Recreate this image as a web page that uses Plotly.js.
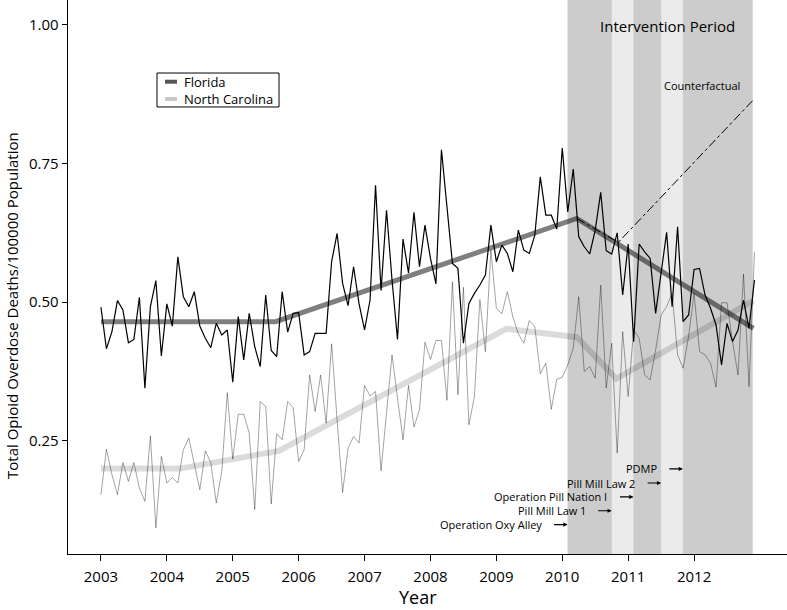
<!DOCTYPE html>
<html>
<head>
<meta charset="utf-8">
<script src="https://cdn.plot.ly/plotly-3.0.1.min.js"></script>
<style>html,body{margin:0;padding:0;background:#fff;}#chart{width:787px;height:610px;}</style>
</head>
<body>
<div id="chart"></div>
<script>
// Monthly values, Jan 2003 .. Dec 2012
const startYear = 2003;
const florida = [
  0.491,0.416,0.447,0.503,0.486,0.427,0.433,0.509,0.345,0.492,0.539,0.403,
  0.497,0.457,0.582,0.510,0.492,0.519,0.457,0.435,0.418,0.462,0.441,0.450,
  0.356,0.474,0.396,0.480,0.420,0.384,0.513,0.413,0.402,0.519,0.446,0.480,
  0.481,0.405,0.411,0.444,0.444,0.444,0.573,0.624,0.534,0.494,0.564,0.497,
  0.450,0.504,0.711,0.521,0.666,0.540,0.433,0.614,0.553,0.662,0.564,0.639,
  0.579,0.533,0.775,0.666,0.570,0.561,0.426,0.498,0.516,0.531,0.549,0.639,
  0.573,0.603,0.588,0.555,0.630,0.594,0.588,0.621,0.726,0.657,0.657,0.632,
  0.778,0.663,0.740,0.618,0.600,0.587,0.630,0.698,0.593,0.587,0.625,0.513,
  0.605,0.429,0.605,0.591,0.579,0.480,0.552,0.626,0.492,0.636,0.465,0.477,
  0.559,0.561,0.513,0.489,0.459,0.387,0.462,0.429,0.450,0.504,0.453,0.540
];
const northCarolina = [
  0.153,0.235,0.189,0.153,0.211,0.177,0.211,0.165,0.141,0.259,0.093,0.222,
  0.174,0.184,0.174,0.234,0.255,0.210,0.162,0.232,0.211,0.138,0.195,0.337,
  0.217,0.298,0.298,0.264,0.126,0.321,0.312,0.136,0.263,0.252,0.321,0.310,
  0.213,0.234,0.369,0.303,0.369,0.282,0.425,0.288,0.157,0.237,0.258,0.246,
  0.350,0.331,0.339,0.196,0.306,0.405,0.327,0.252,0.350,0.275,0.306,0.428,
  0.397,0.431,0.431,0.323,0.537,0.333,0.527,0.279,0.330,0.505,0.411,0.594,
  0.489,0.479,0.519,0.474,0.443,0.426,0.467,0.456,0.371,0.390,0.307,0.361,
  0.365,0.387,0.417,0.510,0.375,0.384,0.363,0.531,0.345,0.426,0.228,0.447,
  0.330,0.450,0.435,0.369,0.360,0.414,0.477,0.492,0.516,0.405,0.381,0.438,
  0.516,0.411,0.405,0.390,0.347,0.499,0.499,0.429,0.369,0.551,0.348,0.591
];
// Segmented trend lines
const flTrendX = [2003.0, 2005.65, 2010.22, 2012.9];
const flTrendY = [0.465, 0.465, 0.651, 0.453];
const ncTrendX = [2003.0, 2004.2, 2005.7, 2009.15, 2010.22, 2010.82, 2012.9];
const ncTrendY = [0.200, 0.200, 0.232, 0.452, 0.437, 0.362, 0.503];
// Counterfactual (Florida)
const cfX = [2010.22, 2010.85, 2012.9];
const cfY = [0.651, 0.608, 0.865];
// Intervention period and events
const periodStart = 2010.08, periodEnd = 2012.89;
const lightBands = [[2010.75, 2011.08], [2011.5, 2011.83]];
const eventNames = ["Operation Oxy Alley", "Pill Mill Law 1", "Operation Pill Nation I", "Pill Mill Law 2", "PDMP"];
const eventDates = [2010.08, 2010.75, 2011.08, 2011.5, 2011.83];
const eventLabelY = [0.099, 0.124, 0.149, 0.174, 0.1995];
// Axis ticks
const yearTicks = [2003, 2004, 2005, 2006, 2007, 2008, 2009, 2010, 2011, 2012];
const yTicks = [0.25, 0.50, 0.75, 1.00];
const yTickText = ["0.25", "0.50", "0.75", "1.00"];

const months = florida.map((_, i) => startYear + i / 12);
const FONT = "Open Sans, Noto Sans, sans-serif";

const traces = [
  {x: ncTrendX, y: ncTrendY, mode: "lines", line: {color: "rgba(0,0,0,0.14)", width: 6}, hoverinfo: "skip"},
  {x: flTrendX, y: flTrendY, mode: "lines", line: {color: "rgba(0,0,0,0.5)", width: 5}, hoverinfo: "skip"},
  {x: months, y: northCarolina, mode: "lines", line: {color: "rgba(0,0,0,0.36)", width: 1}, name: "North Carolina"},
  {x: months, y: florida, mode: "lines", line: {color: "#000", width: 1.2}, name: "Florida"},
  {x: cfX, y: cfY, mode: "lines", line: {color: "#000", width: 1, dash: "dashdot"}, hoverinfo: "skip"}
];

const shapes = [
  {type: "rect", xref: "x", yref: "paper", x0: periodStart, x1: periodEnd, y0: 0, y1: 1, fillcolor: "#cccccc", line: {width: 0}, layer: "below"}
];
lightBands.forEach(b => shapes.push({type: "rect", xref: "x", yref: "paper", x0: b[0], x1: b[1], y0: 0, y1: 1, fillcolor: "#ebebeb", line: {width: 0}, layer: "below"}));
// manual legend
shapes.push({type: "rect", xref: "paper", yref: "paper", x0: 0.1238, x1: 0.2935, y0: 0.8069, y1: 0.8682, fillcolor: "#fff", line: {color: "#000", width: 1}});
shapes.push({type: "line", xref: "paper", yref: "paper", x0: 0.1349, x1: 0.1516, y0: 0.8525, y1: 0.8525, line: {color: "#555", width: 4}});
shapes.push({type: "line", xref: "paper", yref: "paper", x0: 0.1349, x1: 0.1516, y0: 0.8213, y1: 0.8213, line: {color: "#c8c8c8", width: 4}});

const annotations = [
  {xref: "paper", yref: "paper", x: 0.1586, y: 0.8525, xanchor: "left", yanchor: "middle", text: "Florida", showarrow: false, font: {family: FONT, size: 13, color: "#000"}},
  {xref: "paper", yref: "paper", x: 0.1586, y: 0.8213, xanchor: "left", yanchor: "middle", text: "North Carolina", showarrow: false, font: {family: FONT, size: 13, color: "#000"}},
  {xref: "paper", yref: "paper", x: (667 - 68) / 719, y: 1 - 26 / 554, xanchor: "center", yanchor: "middle", text: "Intervention Period", showarrow: false, font: {family: FONT, size: 15, color: "#000"}},
  {xref: "paper", yref: "paper", x: (702 - 68) / 719, y: 1 - 86 / 554, xanchor: "center", yanchor: "middle", text: "Counterfactual", showarrow: false, font: {family: FONT, size: 11, color: "#000"}},
  {xref: "paper", yref: "paper", x: -56 / 719, y: 1 - 306 / 554, xanchor: "center", yanchor: "middle", textangle: -90, text: "Total Opioid Overdose Deaths/100000 Population", showarrow: false, font: {family: FONT, size: 15, color: "#000"}},
  {xref: "paper", yref: "paper", x: (418 - 68) / 719, y: -43 / 554, xanchor: "center", yanchor: "middle", text: "Year", showarrow: false, font: {family: FONT, size: 18, color: "#000"}}
];
eventNames.forEach((name, i) => {
  annotations.push({x: eventDates[i], y: eventLabelY[i], xref: "x", yref: "y", text: name, showarrow: false, xanchor: "right", yanchor: "middle", xshift: -24, font: {family: FONT, size: 11, color: "#000"}});
  annotations.push({x: eventDates[i], y: eventLabelY[i], xref: "x", yref: "y", text: "", showarrow: true, ax: -15, ay: 0, arrowhead: 2, arrowsize: 0.7, arrowwidth: 1.2, arrowcolor: "#000"});
});

const layout = {
  width: 787, height: 610,
  margin: {l: 68, r: 0, t: 0, b: 56, pad: 0},
  paper_bgcolor: "#fff", plot_bgcolor: "#fff",
  showlegend: false,
  font: {family: FONT, color: "#000"},
  xaxis: {
    range: [2002.5, 2013.41], tickvals: yearTicks, ticktext: yearTicks.map(String),
    ticks: "outside", ticklen: 6, tickwidth: 1, tickcolor: "#000", ticklabelstandoff: 3,
    showline: true, linecolor: "#000", linewidth: 1.3, showgrid: false, zeroline: false,
    tickfont: {family: FONT, size: 15, color: "#000"}
  },
  yaxis: {
    range: [0.046, 1.045], tickvals: yTicks, ticktext: yTickText,
    ticks: "outside", ticklen: 5, tickwidth: 1, tickcolor: "#000",
    showline: true, linecolor: "#000", linewidth: 1.3, showgrid: false, zeroline: false,
    tickfont: {family: FONT, size: 15, color: "#000"}
  },
  shapes: shapes,
  annotations: annotations
};

Plotly.newPlot("chart", traces, layout, {displayModeBar: false, staticPlot: true});
</script>
</body>
</html>
